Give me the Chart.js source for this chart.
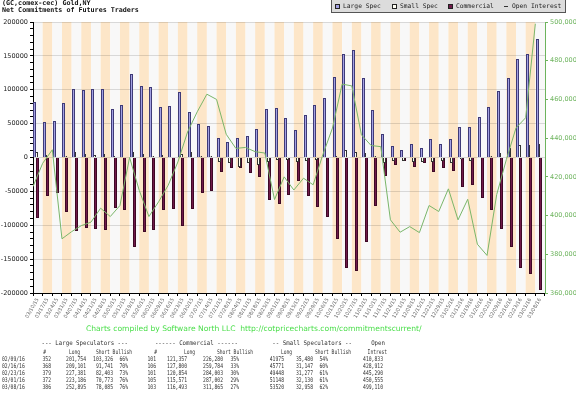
<!DOCTYPE html>
<html>
<head>
<meta charset="utf-8">
<script src="https://cdn.jsdelivr.net/npm/chart.js@4.4.1/dist/chart.umd.min.js"></script>
<style>
  html, body { margin: 0; padding: 0; background: #fff; }
  #wrap { position: relative; width: 576px; height: 397px; }
</style>
</head>
<body>
<div id="wrap"><canvas id="cot" width="576" height="397"></canvas></div>
<script>
// --- values (weekly, net positions) ---
const weeks = [
  '03/10/15','03/17/15','03/24/15','03/31/15','04/07/15','04/14/15','04/21/15','04/28/15',
  '05/05/15','05/12/15','05/19/15','05/26/15','06/02/15','06/09/15','06/16/15','06/23/15',
  '06/30/15','07/07/15','07/14/15','07/21/15','07/28/15','08/04/15','08/11/15','08/18/15',
  '08/25/15','09/01/15','09/08/15','09/15/15','09/22/15','09/29/15','10/06/15','10/13/15',
  '10/20/15','10/27/15','11/03/15','11/10/15','11/17/15','11/24/15','12/01/15','12/08/15',
  '12/15/15','12/22/15','12/29/15','01/05/16','01/12/16','01/19/16','01/26/16','02/02/16',
  '02/09/16','02/16/16','02/23/16','03/01/16','03/08/16'
];

const largeSpec = [
  82000, 53000, 54000, 80500, 101500, 99000, 101500, 101500, 72000, 77500,
  123500, 105500, 104500, 75000, 76000, 96000, 67000, 50000, 47000, 28500,
  23000, 29000, 32000, 42000, 71000, 73000, 59000, 41000, 62000, 77700,
  88000, 118600, 152500, 159400, 117600, 69400, 35400, 17200, 10800, 19700,
  14300, 27600, 20200, 28000, 45300, 44800, 60000, 74300,
  98428, 117360, 144978, 152413, 174810
];

const smallSpec = [
  7500, 4000, 1000, 1500, 7500, 5000, 3500, 5500, 2000, 500,
  8500, 4500, 2500, 3000, 500, 5000, 8500, 2000, 2000, -6500,
  -8500, -13500, -7500, -11500, -7000, -4000, -3000, -7000, -5000, -4000,
  1000, 1500, 10500, 7400, 7000, 2000, -7400, -5400, -5400, -6400,
  -6900, -6000, -4900, -8800, -1500, -4900, 500, 2900,
  6495, 14624, 18171, 19018, 20562
];

const commercial = [
  -89000, -57000, -53000, -81000, -109000, -104000, -105000, -107000, -74000, -77500,
  -132000, -110000, -107000, -78000, -76500, -101000, -75500, -52000, -49000, -21500,
  -15000, -15000, -23500, -29500, -63000, -69000, -56000, -34000, -56600, -73300,
  -87600, -120000, -163000, -166800, -125000, -71300, -28000, -11800, -5400, -13300,
  -7400, -21600, -15300, -19200, -43800, -39900, -60000, -77200,
  -104923, -131984, -163149, -171431, -195372
];

const openInterest = [
  415000, 427000, 434000, 388000, 391700, 394800, 396600, 403800, 399500, 405200,
  430000, 413000, 399500, 407100, 415700, 427700, 443200, 453600, 462700, 460000,
  442000, 434700, 435200, 433000, 432300, 408300, 420000, 413200, 419300, 415900,
  431400, 445200, 467900, 467000, 441700, 436200, 435600, 397800, 391400, 394300,
  391200, 405200, 402100, 413800, 397800, 408400, 385200, 379400,
  410833, 428912, 445290, 450555, 499110
];

// table under the chart
const tableHead1 = ['--- Large Speculators ---', '------ Commercial ------', '-- Small Speculators --', 'Open'];
const tableHead2 = ['#', 'Long', 'Short Bullish', '#', 'Long', 'Short Bullish', 'Long', 'Short Bullish', 'Intrest'];
const tableRows = [
  ['02/09/16', '352', '201,754', '103,326', '66%', '101', '121,357', '226,280', '35%', '41975', '35,480', '54%', '410,833'],
  ['02/16/16', '368', '209,101', '91,741', '70%', '106', '127,800', '259,784', '33%', '45771', '31,147', '60%', '428,912'],
  ['02/23/16', '379', '227,381', '82,403', '73%', '101', '120,854', '284,003', '30%', '49448', '31,277', '61%', '445,290'],
  ['03/01/16', '372', '223,186', '70,773', '76%', '105', '115,571', '287,002', '29%', '51148', '32,130', '61%', '450,555'],
  ['03/08/16', '386', '252,895', '78,085', '76%', '103', '116,493', '311,865', '27%', '53520', '32,958', '62%', '499,110']
];

const GREEN_AXIS = '#6cb35c';

// draw condensed mono text (the original uses a narrow bitmap font)
function squeezeText(ctx, text, x, y, align, sx) {
  ctx.save();
  ctx.translate(x, y);
  ctx.scale(sx, 1);
  ctx.textAlign = align;
  ctx.fillText(text, 0, 0);
  ctx.restore();
}

// alternating week bands behind everything
const bandsPlugin = {
  id: 'bands',
  beforeDraw(chart) {
    const { ctx, chartArea: a, scales: { x } } = chart;
    const w = a.width / weeks.length;
    ctx.save();
    weeks.forEach((wk, i) => {
      const cx = x.getPixelForValue(i);
      ctx.fillStyle = i % 2 ? '#fde6c8' : '#f8f8f8';
      ctx.fillRect(cx - w / 2, a.top, w, a.height);
    });
    ctx.restore();
  }
};

// snap the bars to whole pixels so they stay crisp like the original gif
const snapPlugin = {
  id: 'snap',
  afterDatasetsUpdate(chart) {
    chart.getSortedVisibleDatasetMetas().forEach(meta => {
      if (meta.type !== 'bar') return;
      meta.data.forEach(bar => {
        const left = Math.round(bar.x - bar.width / 2);
        bar.width = 3;
        bar.x = left + 1.5;
        bar.y = Math.round(bar.y);
        bar.base = Math.round(bar.base);
      });
    });
  }
};

// title, legend box, credit line and the table
const textPlugin = {
  id: 'texts',
  afterDraw(chart) {
    const ctx = chart.ctx;
    const ds = chart.data.datasets;
    ctx.save();
    ctx.textBaseline = 'middle';

    // title
    ctx.fillStyle = '#111';
    ctx.font = 'bold 6.7px "DejaVu Sans Mono"';
    ctx.textAlign = 'left';
    ctx.fillText('(GC,comex-cec) Gold,NY', 2, 3.5);
    ctx.fillText('Net Commitments of Futures Traders', 2, 10.5);

    // legend box
    ctx.fillStyle = '#dcdcdc';
    ctx.fillRect(331, 0, 235, 13);
    ctx.strokeStyle = '#555';
    ctx.lineWidth = 1;
    ctx.strokeRect(331.5, -0.5, 234, 13);
    const items = [
      { x: 335, text: 'Large Spec', d: ds[0] },
      { x: 392, text: 'Small Spec', d: ds[1] },
      { x: 448, text: 'Commercial', d: ds[2] },
      { x: 504, text: 'Open Interest', d: ds[3] }
    ];
    ctx.font = '6.3px "DejaVu Sans Mono"';
    items.forEach(it => {
      if (it.d.type === 'line') {
        ctx.strokeStyle = '#333';
        ctx.beginPath();
        ctx.moveTo(it.x, 6.5);
        ctx.lineTo(it.x + 4, 6.5);
        ctx.stroke();
      } else {
        ctx.fillStyle = it.d.backgroundColor;
        ctx.fillRect(it.x, 4.5, 4, 4);
        ctx.strokeStyle = '#222';
        ctx.strokeRect(it.x + 0.5, 4.5, 4, 4);
      }
      ctx.fillStyle = '#222';
      ctx.fillText(it.text, it.x + 8, 6.8);
    });

    // credit line
    ctx.fillStyle = '#4ade4a';
    ctx.font = '7.6px "DejaVu Sans"';
    ctx.textAlign = 'left';
    ctx.fillText('Charts compiled by Software North LLC  http://cotpricecharts.com/commitmentscurrent/', 86, 329);

    // table
    ctx.fillStyle = '#333';
    ctx.font = '6.4px "DejaVu Sans Mono"';
    const h1x = [128, 238, 352, 385];
    tableHead1.forEach((t, i) => squeezeText(ctx, t, h1x[i], 343.5, 'right', 0.9));
    const h2x = [46, 80, 132, 157, 195, 253, 292, 351, 387];
    tableHead2.forEach((t, i) => squeezeText(ctx, t, h2x[i], 352, 'right', 0.72));
    const colx = [2, 51, 86, 113, 128, 156, 187, 223, 239, 284, 313, 328, 383];
    tableRows.forEach((row, r) => {
      const y = 359.5 + r * 7;
      row.forEach((cell, c) => {
        squeezeText(ctx, cell, colx[c], y, c === 0 ? 'left' : 'right', 0.74);
      });
    });
    ctx.restore();
  }
};

const ctx = document.getElementById('cot').getContext('2d');
const barStyle = { borderWidth: 1, categoryPercentage: 0.95, barPercentage: 1, inflateAmount: 0, order: 1 };
const cotChart = new Chart(ctx, {
  type: 'bar',
  data: {
    labels: weeks,
    datasets: [
      Object.assign({ label: 'Large Spec', data: largeSpec, backgroundColor: '#a3a1e3', borderColor: '#3e3a78' }, barStyle),
      Object.assign({ label: 'Small Spec', data: smallSpec, backgroundColor: '#fffff4', borderColor: '#333333' }, barStyle),
      Object.assign({ label: 'Commercial', data: commercial, backgroundColor: '#701a4a', borderColor: '#3e0826' }, barStyle),
      {
        type: 'line', label: 'Open Interest',
        // open interest points sit on the left edge of each week
        data: openInterest.map((v, i) => ({ x: i - 0.5, y: v })),
        xAxisID: 'xl', yAxisID: 'y2',
        borderColor: '#7ab66a', borderWidth: 1, pointRadius: 0, tension: 0, order: 0
      }
    ]
  },
  options: {
    responsive: false,
    animation: false,
    devicePixelRatio: 1,
    layout: { padding: { top: 22, bottom: 74, left: 0, right: 0 } },
    plugins: { legend: { display: false }, tooltip: { enabled: false } },
    scales: {
      x: {
        type: 'category',
        offset: true,
        grid: { offset: true, drawOnChartArea: false, tickLength: 3, tickColor: '#000' },
        border: { color: '#000' },
        ticks: {
          autoSkip: false, minRotation: 60, maxRotation: 60, padding: 1,
          color: '#666', font: { family: 'DejaVu Sans', size: 5 }
        },
        afterFit: s => { s.height = 30; }
      },
      xl: {
        type: 'linear', min: -0.5, max: weeks.length - 0.5,
        offset: false, grid: { offset: false }, display: false
      },
      y: {
        position: 'left',
        min: -200000, max: 200000,
        ticks: {
          stepSize: 10000, autoSkip: false, padding: 2, color: '#222',
          font: { family: 'DejaVu Sans', size: 6.5 },
          callback: v => (v % 50000 === 0 ? String(v) : '')
        },
        grid: {
          color: c => (c.tick && c.tick.value % 50000 === 0 ? 'rgba(0,0,0,0.13)' : 'rgba(0,0,0,0)'),
          tickColor: '#000', tickLength: 3
        },
        border: { color: '#000' },
        afterFit: s => { s.width = 33; }
      },
      y2: {
        position: 'right',
        min: 360000, max: 500000,
        ticks: {
          stepSize: 20000, padding: 2, color: GREEN_AXIS,
          font: { family: 'DejaVu Sans', size: 6.5 }
        },
        grid: { drawOnChartArea: false, tickColor: GREEN_AXIS, tickLength: 3 },
        border: { color: GREEN_AXIS },
        afterFit: s => { s.width = 31; }
      }
    }
  },
  plugins: [bandsPlugin, snapPlugin, textPlugin]
});
</script>
</body>
</html>
